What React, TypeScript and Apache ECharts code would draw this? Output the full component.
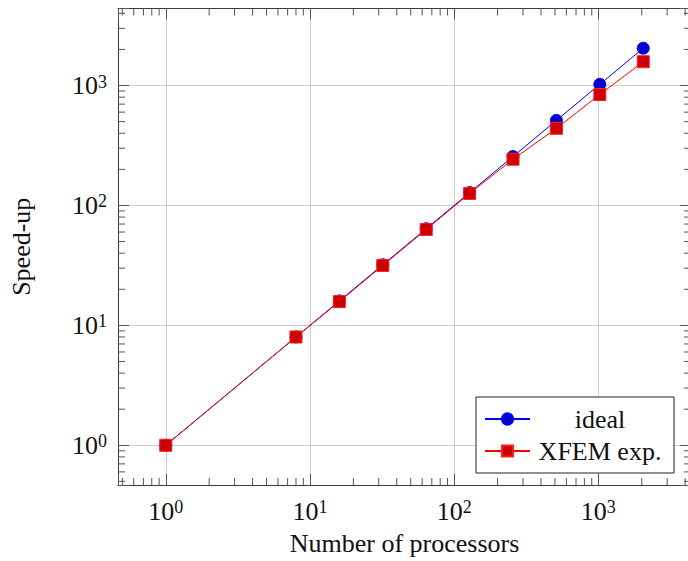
import React, { useEffect, useRef } from "react";
import * as echarts from "echarts";

// Processor counts and measured speed-ups
const processors = [1, 8, 16, 32, 64, 128, 256, 512, 1024, 2048];
const idealSpeedup = [1, 8, 16, 32, 64, 128, 256, 512, 1024, 2048];
const xfemSpeedup = [1, 8, 15.8, 31.6, 63, 126, 243, 440, 842, 1580];

const seriesNames = ["ideal", "XFEM exp."];
const xTitle = "Number of processors";
const yTitle = "Speed-up";

// Decades and mantissas used for the logarithmic minor ticks
const decades = [-1, 0, 1, 2, 3];
const minorMultiples = [2, 3, 4, 5, 6, 7, 8, 9];

const FONT = '"Liberation Serif", "DejaVu Serif", serif';
const FRAME = "#3a3a3a";
const TICK = "#555555";
const GRID = "#cccccc";

// 10% enlargement of the logarithmic data range on each side
const logLo = Math.log10(Math.min(...processors));
const logHi = Math.log10(Math.max(...processors));
const pad = 0.1 * (logHi - logLo);
const AX_MIN = Math.pow(10, logLo - pad);
const AX_MAX = Math.pow(10, logHi + pad);

const minorTicks = decades
  .flatMap((d) => minorMultiples.map((m) => m * Math.pow(10, d)))
  .filter((v) => v > AX_MIN && v < AX_MAX);

const powerLabel = (v: number) => {
  const e = Math.log10(v);
  if (Math.abs(e - Math.round(e)) > 1e-6) return "";
  return `{b|10}{s|${Math.round(e)}}`;
};

const labelRich = {
  b: { fontFamily: FONT, fontSize: 26, color: "#111", lineHeight: 26 },
  s: { fontFamily: FONT, fontSize: 18, color: "#111", verticalAlign: "top", lineHeight: 18 },
};

const majorTick = { show: true, inside: true, length: 11, lineStyle: { color: TICK, width: 1 } };

export default function App() {
  const ref = useRef<HTMLDivElement>(null);

  useEffect(() => {
    document.body.style.margin = "0";
    if (!ref.current) return;
    const chart = echarts.init(ref.current, undefined, { renderer: "svg" });

    const tickLine = (x1: number, y1: number, x2: number, y2: number) => ({
      type: "line",
      shape: { x1, y1, x2, y2 },
      style: { stroke: TICK, lineWidth: 1 },
    });

    chart.setOption({
      animation: false,
      backgroundColor: "#fff",
      grid: { left: 117, top: 8.5, right: 9, bottom: 73 },
      xAxis: [
        {
          type: "log",
          logBase: 10,
          min: AX_MIN,
          max: AX_MAX,
          name: xTitle,
          nameLocation: "middle",
          nameGap: 45,
          nameTextStyle: { fontFamily: FONT, fontSize: 26, color: "#111" },
          axisLine: { show: true, lineStyle: { color: FRAME, width: 1 } },
          axisTick: majorTick,
          axisLabel: { formatter: powerLabel, rich: labelRich, margin: 13 },
          splitLine: { show: true, lineStyle: { color: GRID, width: 1 } },
        },
        {
          type: "log",
          logBase: 10,
          position: "top",
          min: AX_MIN,
          max: AX_MAX,
          axisLine: { show: true, lineStyle: { color: FRAME, width: 1 } },
          axisTick: majorTick,
          axisLabel: { show: false },
          splitLine: { show: false },
        },
      ],
      yAxis: [
        {
          type: "log",
          logBase: 10,
          min: AX_MIN,
          max: AX_MAX,
          name: yTitle,
          nameLocation: "middle",
          nameGap: 84,
          nameTextStyle: { fontFamily: FONT, fontSize: 26, color: "#111" },
          axisLine: { show: true, lineStyle: { color: FRAME, width: 1 } },
          axisTick: majorTick,
          axisLabel: { formatter: powerLabel, rich: labelRich, margin: 11 },
          splitLine: { show: true, lineStyle: { color: GRID, width: 1 } },
        },
        {
          type: "log",
          logBase: 10,
          position: "right",
          min: AX_MIN,
          max: AX_MAX,
          axisLine: { show: true, lineStyle: { color: FRAME, width: 1 } },
          axisTick: majorTick,
          axisLabel: { show: false },
          splitLine: { show: false },
        },
      ],
      legend: {
        data: seriesNames,
        orient: "vertical",
        left: 476,
        top: 397,
        padding: [9, 9, 9, 8],
        itemGap: 6,
        itemWidth: 45,
        itemHeight: 14,
        backgroundColor: "#fff",
        borderColor: "#222",
        borderWidth: 1,
        borderRadius: 0,
        formatter: (name: string) => `{c|${name}}`,
        textStyle: {
          rich: {
            c: { fontFamily: FONT, fontSize: 26, color: "#111", width: 130, align: "center", lineHeight: 26 },
          },
        },
      },
      series: [
        {
          name: seriesNames[0],
          type: "line",
          data: processors.map((p, i) => [p, idealSpeedup[i]]),
          symbol: "circle",
          symbolSize: 12,
          lineStyle: { color: "#0000ff", width: 1 },
          itemStyle: { color: "#0000cc", borderColor: "#0000ff", borderWidth: 1 },
          z: 3,
        },
        {
          name: seriesNames[1],
          type: "line",
          data: processors.map((p, i) => [p, xfemSpeedup[i]]),
          symbol: "rect",
          symbolSize: 12,
          lineStyle: { color: "#ff0000", width: 1 },
          itemStyle: { color: "#cc0000", borderColor: "#ff2020", borderWidth: 1 },
          z: 4,
        },
        {
          type: "custom",
          silent: true,
          z: 5,
          data: minorTicks.map((v) => [v, 1]),
          renderItem: (params: any, api: any) => {
            const cs = params.coordSys;
            const pt = api.coord([api.value(0), api.value(1)]);
            const bottom = cs.y + cs.height;
            return {
              type: "group",
              children: [
                tickLine(pt[0], bottom, pt[0], bottom - 7),
                tickLine(pt[0], cs.y, pt[0], cs.y + 7),
              ],
            };
          },
        },
        {
          type: "custom",
          silent: true,
          z: 5,
          data: minorTicks.map((v) => [1, v]),
          renderItem: (params: any, api: any) => {
            const cs = params.coordSys;
            const pt = api.coord([api.value(0), api.value(1)]);
            const right = cs.x + cs.width;
            return {
              type: "group",
              children: [
                tickLine(cs.x, pt[1], cs.x + 7, pt[1]),
                tickLine(right, pt[1], right - 7, pt[1]),
              ],
            };
          },
        },
      ],
    });

    return () => chart.dispose();
  }, []);

  return (
    <div style={{ width: 688, height: 561, overflow: "hidden", position: "relative", background: "#fff" }}>
      <div ref={ref} style={{ width: 700, height: 561 }} />
    </div>
  );
}
